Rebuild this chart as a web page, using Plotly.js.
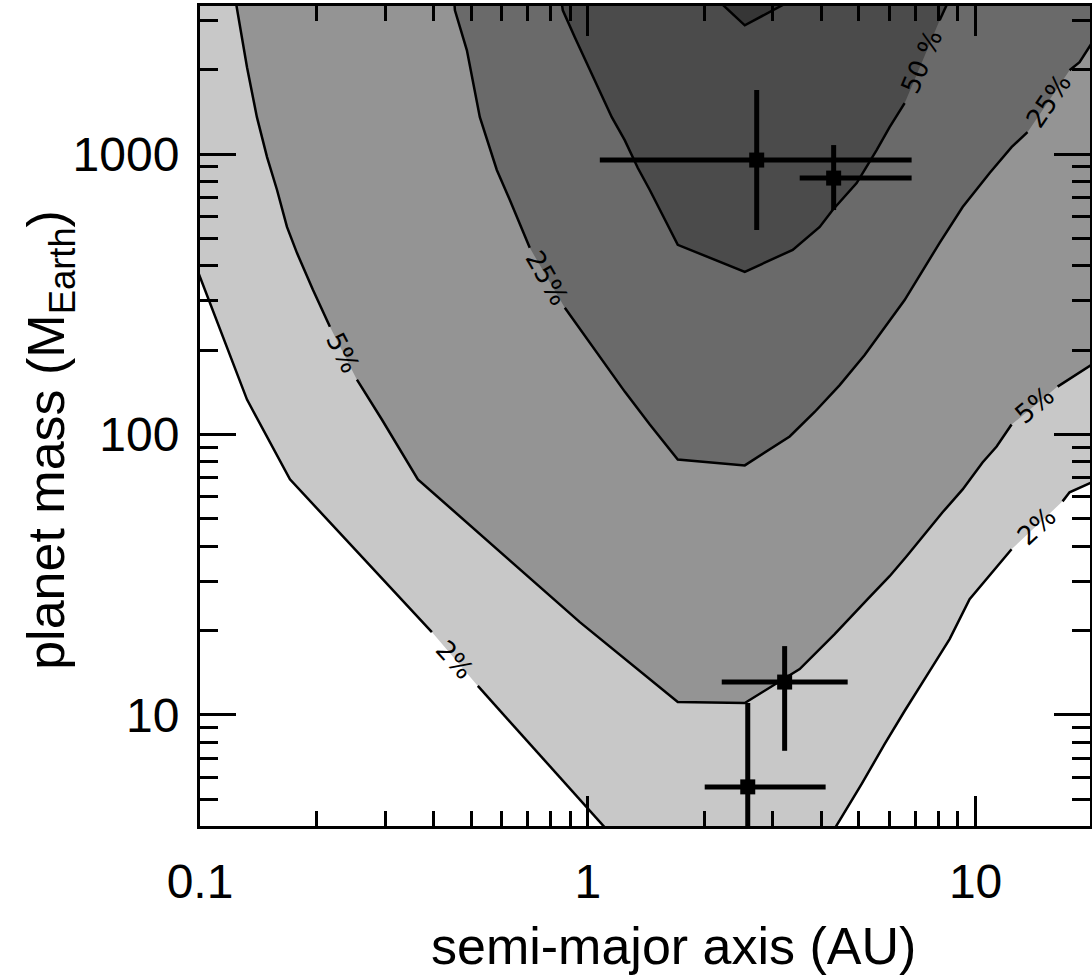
<!DOCTYPE html>
<html><head><meta charset="utf-8">
<script src="https://cdn.plot.ly/plotly-3.0.1.min.js"></script>
<style>html,body{margin:0;padding:0;background:#fff}</style>
</head><body>
<div id="chart" style="width:1092px;height:976px"></div>
<script>
// ---- contour lines (semi-major axis AU, planet mass M_Earth); null = gap for the label ----
const c2_a = [0.0942, 0.1, 0.1153, 0.1322, 0.1706, 0.3962, null, 0.5205, 1.093, 1.11, null, 4.33, 5.085, 5.83, 6.56, 7.61, 8.57, 9.65, 12.38, null, 16.76, 17.47, 19.91, 20.5];
const c2_m = [452, 365, 217.8, 133.2, 69.2, 19.74, null, 12.69, 4.06, 3.95, null, 3.93, 5.68, 7.88, 10.33, 14.34, 18.64, 25.87, 38.97, null, 57.76, 62.2, 67.5, 69];

const c5_a = [0.123, 0.1322, 0.1402, 0.1489, 0.158, 0.1676, 0.1778, 0.1955, 0.2163, null, 0.2539, 0.2944, 0.3646, 0.5932, 0.9537, 1.706, 2.54, 3.519, 4.331, 5.268, 6.002, 6.64, 7.476, 8.22, 9.26, 10.42, 11.33, 12.38, null, 16.27, 18.2, 19.91, 20.5];
const c5_m = [3650, 2040, 1354, 975.7, 744.5, 549.8, 444.4, 328.1, 242.3, null, 156.9, 113.1, 69.17, 38.33, 21.43, 11.13, 11.03, 14.58, 19.43, 25.87, 31.24, 36.8, 44.8, 52.8, 63.7, 79.5, 90.6, 108.5, null, 148.2, 163.5, 177.5, 180];

const c25_a = [0.4516, 0.4543, 0.4878, 0.5268, 0.5826, 0.6295, 0.7085, null, 0.8725, 1.074, 1.245, 1.445, 1.706, 2.54, 3.316, 3.846, 4.462, 5.175, 5.829, 6.561, 8.077, 9.26, 10.87, 12.38, 13.61, null, 17.47, 18.54, 19.91, 20.5];
const c25_m = [3650, 3254, 2345, 1354, 877.4, 686, 463, null, 283.1, 189.5, 142.2, 108.5, 81.47, 77.6, 98.4, 120.3, 150.1, 192.1, 239.8, 301.6, 482.4, 647.6, 855.9, 1059, 1197, null, 1990, 2125, 2483, 2560];

const c50_a = [0.852, 0.8621, 0.9257, 0.994, 1.074, 1.153, 1.245, 1.346, 1.445, 1.598, 1.706, 2.54, 3.376, 3.963, 4.279, 4.935, 5.556, 6.002, 6.561, null, 8.077, 8.468, 8.62];
const c50_m = [3650, 3254, 2609, 2108, 1690, 1354, 1121, 891.9, 744.5, 568.1, 474.6, 380.3, 455.4, 549.8, 632.1, 788.3, 1033, 1248, 1519, null, 2999, 3446, 3650];

const c75_a = [2.112, 2.54, 3.499];
const c75_m = [3650, 2878, 3650];

// ---- contour labels ----
const lab_text = ['2%', '2%', '5%', '5%', '25%', '25%', '50 %'];
const lab_a = [0.4543, 14.37, 0.2336, 14.19, 0.784, 15.42, 7.256];
const lab_m = [15.7, 47.2, 195.3, 127.4, 361.4, 1545, 2128];
const lab_angle = [48, -43, 63, -40, 60, -56, -67];

// ---- planets ----
const pl_a = [2.726, 4.305, 3.218, 2.585];
const pl_m = [952, 821, 13.1, 5.54];
const pl_a_minus = [1.652, 0.786, 1.003, 0.583];
const pl_a_plus = [4.113, 2.534, 1.461, 1.52];
const pl_m_minus = [416, 189.5, 5.65, 2.54];
const pl_m_plus = [739, 255.7, 4.5, 5.49];

// ---- axes ----
const xTickVals = [0.1, 1, 10];
const xTickText = ['0.1', '1', '10'];
const xMinor = [0.2, 0.3, 0.4, 0.5, 0.6, 0.7, 0.8, 0.9, 2, 3, 4, 5, 6, 7, 8, 9, 20];
const yTickVals = [10, 100, 1000];
const yTickText = ['10', '100', '1000'];
const yMinor = [5, 6, 7, 8, 9, 20, 30, 40, 50, 60, 70, 80, 90, 200, 300, 400, 500, 600, 700, 800, 900, 2000, 3000];
const xTitle = 'semi-major axis (AU)';
const yTitle = 'planet mass (M<sub>Earth</sub>)';

const xRange = [-1, 1.295];
const yRange = [0.604, 3.528];
const XLO = Math.pow(10, xRange[0] - 0.1), XHI = Math.pow(10, xRange[1] + 0.1);
const YHI = Math.pow(10, yRange[1] + 0.1);

function clean(a, m) {
  const xa = [], ym = [];
  for (let i = 0; i < a.length; i++) if (a[i] !== null) { xa.push(a[i]); ym.push(m[i]); }
  return [xa, ym];
}
function poly(a, m, preA, preM, postA, postM, color) {
  const [xa, ym] = clean(a, m);
  return {
    x: preA.concat(xa, postA), y: preM.concat(ym, postM),
    type: 'scatter', mode: 'lines', fill: 'toself', fillcolor: color,
    line: {width: 0, color: color}, hoverinfo: 'skip', showlegend: false
  };
}
function line(a, m) {
  return {x: a, y: m, type: 'scatter', mode: 'lines', connectgaps: false,
    line: {color: '#000', width: 2.5}, hoverinfo: 'skip', showlegend: false};
}

const traces = [
  poly(c2_a, c2_m, [XLO], [YHI], [XHI], [YHI], '#c8c8c8'),
  poly(c5_a, c5_m, [], [], [XHI], [YHI], '#949494'),
  poly(c25_a, c25_m, [], [], [XHI], [YHI], '#6a6a6a'),
  poly(c50_a, c50_m, [], [], [], [], '#4b4b4b'),
  poly(c75_a, c75_m, [], [], [], [], '#363636'),
  line(c2_a, c2_m), line(c5_a, c5_m), line(c25_a, c25_m), line(c50_a, c50_m), line(c75_a, c75_m),
  {
    x: pl_a, y: pl_m, type: 'scatter', mode: 'markers',
    marker: {symbol: 'square', size: 15, color: '#000'},
    error_x: {type: 'data', symmetric: false, array: pl_a_plus, arrayminus: pl_a_minus, thickness: 5, width: 0, color: '#000'},
    error_y: {type: 'data', symmetric: false, array: pl_m_plus, arrayminus: pl_m_minus, thickness: 5, width: 0, color: '#000'},
    hoverinfo: 'skip', showlegend: false
  }
];

const fontFam = 'Liberation Sans, Arial, Helvetica, sans-serif';
const annotations = lab_text.map((t, i) => ({
  x: Math.log10(lab_a[i]), y: Math.log10(lab_m[i]), xref: 'x', yref: 'y',
  text: t, showarrow: false, textangle: lab_angle[i],
  font: {family: 'DejaVu Sans, sans-serif', size: 26, color: '#000'}
}));
// axis titles placed as in the reference (slightly off-centre)
annotations.push({
  xref: 'paper', yref: 'paper', x: 0.5315, y: -0.146, xanchor: 'center', yanchor: 'middle',
  text: xTitle, showarrow: false, font: {family: fontFam, size: 52, color: '#000'}
});
annotations.push({
  xref: 'paper', yref: 'paper', x: -0.1685, y: 0.471, xanchor: 'center', yanchor: 'middle',
  text: yTitle, textangle: -90, showarrow: false, font: {family: fontFam, size: 52, color: '#000'}
});

const axisCommon = {
  type: 'log', ticks: 'inside', tickwidth: 3, tickcolor: '#000',
  showline: true, linewidth: 3, linecolor: '#000', mirror: 'allticks',
  showgrid: false, zeroline: false, tickmode: 'array',
  tickfont: {family: fontFam, size: 48, color: '#000'}
};

const layout = {
  width: 1092, height: 976,
  margin: {l: 200, r: 2, t: 6, b: 150},
  paper_bgcolor: '#fff', plot_bgcolor: '#fff',
  showlegend: false,
  xaxis: Object.assign({}, axisCommon, {
    range: xRange, tickvals: xTickVals, ticktext: xTickText, ticklen: 30,
    ticklabelstandoff: 11,
    minor: {tickmode: 'array', tickvals: xMinor, ticks: 'inside', ticklen: 15, tickwidth: 3, tickcolor: '#000', showgrid: false}
  }),
  yaxis: Object.assign({}, axisCommon, {
    range: yRange, tickvals: yTickVals, ticktext: yTickText, ticklen: 36,
    ticklabelstandoff: 8,
    minor: {tickmode: 'array', tickvals: yMinor, ticks: 'inside', ticklen: 18, tickwidth: 3, tickcolor: '#000', showgrid: false}
  }),
  annotations: annotations
};

Plotly.newPlot('chart', traces, layout, {displayModeBar: false, staticPlot: true});
</script>
</body></html>
